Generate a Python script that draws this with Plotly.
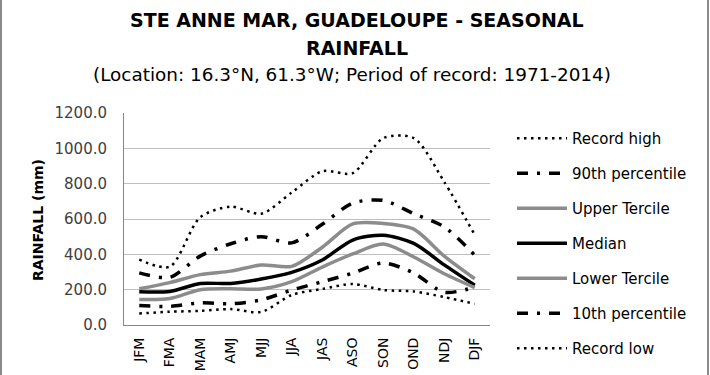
import plotly.graph_objects as go

seasons = ["JFM", "FMA", "MAM", "AMJ", "MJJ", "JJA", "JAS", "ASO", "SON", "OND", "NDJ", "DJF"]
record_high = [370, 330, 610, 670, 630, 750, 870, 860, 1058, 1058, 810, 510]
p90 = [295, 270, 390, 460, 500, 465, 570, 690, 705, 630, 555, 395]
upper_tercile = [205, 240, 285, 305, 340, 332, 440, 572, 575, 543, 390, 262]
median = [188, 190, 235, 235, 260, 298, 368, 481, 508, 462, 340, 225]
lower_tercile = [145, 150, 200, 205, 204, 245, 328, 402, 458, 385, 290, 212]
p10 = [110, 105, 125, 120, 142, 198, 245, 294, 351, 294, 185, 215]
record_low = [65, 75, 80, 90, 74, 170, 204, 232, 198, 190, 158, 120]

yticks = [0, 200, 400, 600, 800, 1000, 1200]

series = [
    ("Record high", record_high, "black", 2.5, "2.5px,4.5px"),
    ("90th percentile", p90, "black", 3.5, "11px,9px,3px,9px"),
    ("Upper Tercile", upper_tercile, "#8c8c8c", 3.5, "solid"),
    ("Median", median, "black", 3.5, "solid"),
    ("Lower Tercile", lower_tercile, "#8c8c8c", 3.5, "solid"),
    ("10th percentile", p10, "black", 3.5, "11px,9px,3px,9px"),
    ("Record low", record_low, "black", 2.5, "2.5px,4.5px"),
]

fig = go.Figure()
for i, (name, vals, color, w, dash) in enumerate(series):
    fig.add_trace(go.Scatter(
        x=seasons, y=vals, name=name, mode="lines",
        line=dict(color=color, width=w, dash=dash, shape="spline", smoothing=0.8),
        legendgroup=f"g{i}",
    ))

font_family = "DejaVu Sans, Liberation Sans, sans-serif"

L, R, T, B = 124, 490, 113, 325
W, H = R - L, B - T


def py(p):
    return (B - p) / H


def px(p):
    return (p - L) / W


fig.update_layout(
    width=710, height=375,
    margin=dict(l=L, r=710 - R, t=T, b=375 - B, autoexpand=False),
    paper_bgcolor="white", plot_bgcolor="white",
    font=dict(family=font_family, color="#262626"),
    annotations=[
        dict(text="<b>STE ANNE MAR, GUADELOUPE - SEASONAL</b>", xref="paper", yref="paper",
             x=px(357), y=py(20), xanchor="center", yanchor="middle", showarrow=False,
             font=dict(size=19, color="black")),
        dict(text="<b>RAINFALL</b>", xref="paper", yref="paper",
             x=px(357), y=py(48), xanchor="center", yanchor="middle", showarrow=False,
             font=dict(size=19, color="black")),
        dict(text="(Location: 16.3°N, 61.3°W; Period of record: 1971-2014)",
             xref="paper", yref="paper", x=px(352), y=py(75), xanchor="center", yanchor="middle",
             showarrow=False, font=dict(size=18.4, color="black")),
        dict(text="<b>RAINFALL (mm)</b>", xref="paper", yref="paper",
             x=px(38), y=py(220), xanchor="center", yanchor="middle", textangle=-90,
             showarrow=False, font=dict(size=14, color="black")),
    ],
    xaxis=dict(
        tickangle=-90, tickfont=dict(size=14, color="black"),
        showgrid=False, showline=True, linecolor="#868686", linewidth=1,
        ticks="", range=[-0.5, 11.5], ticklabelstandoff=6,
    ),
    yaxis=dict(
        range=[0, 1200], tickvals=yticks, tickformat=".1f",
        tickfont=dict(size=15, color="#404040"),
        showgrid=True, gridcolor="#bfbfbf", gridwidth=1,
        showline=True, linecolor="#868686", linewidth=1,
        zeroline=False, ticks="", ticklabelstandoff=13,
    ),
    legend=dict(
        x=px(512), xanchor="left", y=py(122), yanchor="top",
        font=dict(size=15, color="black"), maxheight=300,
        tracegroupgap=12.5, itemwidth=50, bgcolor="rgba(0,0,0,0)",
    ),
    shapes=[
        dict(type="line", xref="paper", yref="paper", x0=px(1), x1=px(1), y0=py(0), y1=py(375),
             line=dict(color="#8a8a8a", width=2)),
        dict(type="line", xref="paper", yref="paper", x0=px(708), x1=px(708), y0=py(0), y1=py(375),
             line=dict(color="#8a8a8a", width=2)),
    ],
)

fig.write_html("out.html", config={"displayModeBar": False},
               post_script="document.body.style.margin='0';")
